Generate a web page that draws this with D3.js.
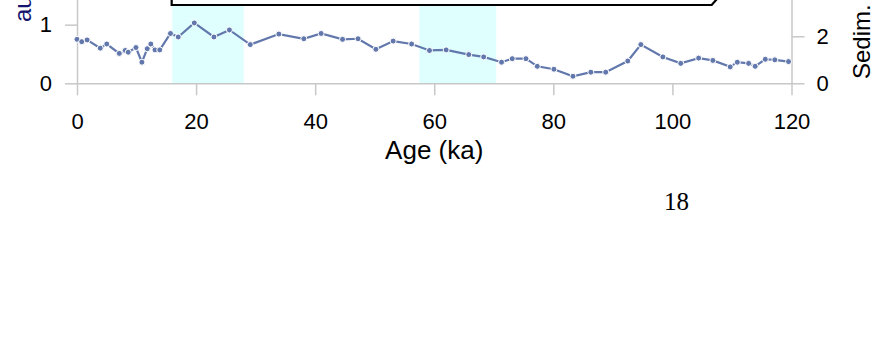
<!DOCTYPE html>
<html>
<head>
<meta charset="utf-8">
<script src="https://cdn.jsdelivr.net/npm/d3@7"></script>
<style>
  body { margin: 0; background: #fff; }
  svg { display: block; }
  .axis text { font-family: "Liberation Sans", Arial, sans-serif; font-size: 22px; fill: #000; }
  .axis path, .axis line { stroke: #c8c8c8; stroke-width: 1.5; }
</style>
</head>
<body>
<div id="chart"></div>
<script>
// age (ka) of each sample
const ages = [0, 0.8, 1.7, 3.9, 5.0, 7.1, 8.1, 8.6, 9.9, 10.9, 11.8, 12.4, 13.1, 13.9,
  15.7, 17.0, 19.7, 23.0, 25.6, 29.1, 33.9, 38.1, 41.0, 44.6, 47.2, 50.2, 53.1, 56.2,
  59.2, 62.0, 65.8, 68.3, 71.3, 73.1, 75.4, 77.3, 80.1, 83.3, 86.3, 88.8, 92.5, 94.7,
  98.4, 101.4, 104.4, 106.8, 109.7, 110.9, 112.8, 113.9, 115.6, 117.2, 119.5];
// measured values (left axis)
const values = [0.75, 0.71, 0.74, 0.60, 0.67, 0.51, 0.56, 0.53, 0.61, 0.36, 0.59, 0.67, 0.57, 0.57,
  0.85, 0.79, 1.03, 0.79, 0.91, 0.66, 0.84, 0.76, 0.85, 0.75, 0.76, 0.58, 0.72, 0.67,
  0.56, 0.57, 0.49, 0.45, 0.36, 0.42, 0.42, 0.29, 0.24, 0.12, 0.19, 0.19, 0.38, 0.66,
  0.45, 0.34, 0.43, 0.39, 0.28, 0.36, 0.34, 0.29, 0.41, 0.40, 0.37];
// shaded intervals (ka)
const bands = [[16.0, 28.0], [57.5, 70.4]];
const xTicks = [0, 20, 40, 60, 80, 100, 120];
const leftTicks = [0, 1];
const rightTicks = [0, 2];

const width = 882, height = 349;
const svg = d3.select("#chart").append("svg")
  .attr("width", width).attr("height", height);

const x = d3.scaleLinear().domain([0, 120]).range([77, 791.5]);
const yL = d3.scaleLinear().domain([0, 1.6]).range([83.3, -10.5]);
const yR = d3.scaleLinear().domain([0, 4]).range([83.3, -10.7]);

// shaded bands
svg.selectAll("rect.band")
  .data(bands)
  .enter()
  .append("rect")
    .attr("class", "band")
    .attr("x", d => x(d[0]))
    .attr("width", d => x(d[1]) - x(d[0]))
    .attr("y", yL(1.6))
    .attr("height", yL(0) - yL(1.6))
    .attr("fill", "#dfffff");

// axes
svg.append("g").attr("class", "axis")
  .attr("transform", `translate(0,${yL(0)})`)
  .call(d3.axisBottom(x).tickValues(xTicks).tickFormat(d3.format("d"))
    .tickSize(12).tickSizeOuter(0).tickPadding(18));

svg.append("g").attr("class", "axis")
  .attr("transform", `translate(${x(0)},0)`)
  .call(d3.axisLeft(yL).tickValues(leftTicks).tickFormat(d3.format("d"))
    .tickSize(12).tickSizeOuter(0).tickPadding(13));

svg.append("g").attr("class", "axis")
  .attr("transform", `translate(${x(120)},0)`)
  .call(d3.axisRight(yR).tickValues(rightTicks).tickFormat(d3.format("d"))
    .tickSize(13).tickSizeOuter(0).tickPadding(12));

// callout box, cut by the top of the page
svg.append("path")
  .attr("d", `M${x(15.9)},-10 L${x(15.9)},5 L${x(106.6)},5 L${x(108.5)},-8`)
  .attr("fill", "#fff")
  .attr("stroke", "#000")
  .attr("stroke-width", 2.2);

// series
const pts = ages.map((a, i) => ({ age: a, v: values[i] }));
svg.append("path")
  .datum(pts)
  .attr("fill", "none")
  .attr("stroke", "#6278ad")
  .attr("stroke-width", 2.2)
  .attr("d", d3.line().x(d => x(d.age)).y(d => yL(d.v)));

svg.selectAll("circle.pt")
  .data(pts)
  .enter()
  .append("circle")
    .attr("class", "pt")
    .attr("cx", d => x(d.age))
    .attr("cy", d => yL(d.v))
    .attr("r", 3)
    .attr("fill", "#6278ad")
    .attr("stroke", "#fff")
    .attr("stroke-width", 1);

// axis titles
svg.append("text")
  .attr("x", (x(0) + x(120)) / 2)
  .attr("y", 159)
  .attr("text-anchor", "middle")
  .style("font-family", "Liberation Sans, Arial, sans-serif")
  .style("font-size", "26px")
  .text("Age (ka)");

svg.append("text")
  .attr("transform", "translate(31,22) rotate(-90)")
  .style("font-family", "Liberation Sans, Arial, sans-serif")
  .style("font-size", "24px")
  .attr("fill", "#14146e")
  .text("au");

svg.append("text")
  .attr("transform", "translate(870,79) rotate(-90)")
  .style("font-family", "Liberation Sans, Arial, sans-serif")
  .style("font-size", "24px")
  .text("Sedim.");

// page number
svg.append("text")
  .attr("x", 676.5)
  .attr("y", 210)
  .attr("text-anchor", "middle")
  .style("font-family", "Liberation Serif, Times New Roman, serif")
  .style("font-size", "25px")
  .text("18");
</script>
</body>
</html>
